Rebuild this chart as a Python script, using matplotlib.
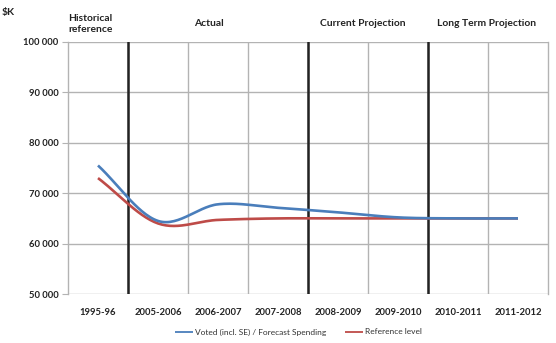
import numpy as np
import matplotlib
matplotlib.use("Agg")
import matplotlib.pyplot as plt
from matplotlib.transforms import blended_transform_factory

categories = ["1995-96", "2005-2006", "2006-2007", "2007-2008",
              "2008-2009", "2009-2010", "2010-2011", "2011-2012"]
voted = [75500, 64500, 67800, 67100, 66200, 65200, 65000, 65000]
reference = [73000, 64000, 64700, 65000, 65000, 65000, 65000, 65000]
y_ticks = [50000, 60000, 70000, 80000, 90000, 100000]
section_labels = ["Historical\nreference", "Actual", "Current Projection", "Long Term Projection"]
section_centers = [-0.13, 1.85, 4.41, 6.47]
section_breaks = [0.5, 3.5, 5.5]

plt.rcParams['font.family'] = ['Lato', 'DejaVu Sans']


def smooth(xs, ys, n=30):
    xs = np.asarray(xs, float); ys = np.asarray(ys, float)
    px = np.concatenate([[2 * xs[0] - xs[1]], xs, [2 * xs[-1] - xs[-2]]])
    py = np.concatenate([[2 * ys[0] - ys[1]], ys, [2 * ys[-1] - ys[-2]]])
    ox, oy = [], []
    for i in range(1, len(px) - 2):
        t = np.linspace(0, 1, n, endpoint=(i == len(px) - 3))
        p0, p1, p2, p3 = py[i - 1], py[i], py[i + 1], py[i + 2]
        q0, q1, q2, q3 = px[i - 1], px[i], px[i + 1], px[i + 2]
        def cr(a, b, c, d):
            return 0.5 * ((2 * b) + (-a + c) * t + (2 * a - 5 * b + 4 * c - d) * t ** 2
                          + (-a + 3 * b - 3 * c + d) * t ** 3)
        ox.append(cr(q0, q1, q2, q3)); oy.append(cr(p0, p1, p2, p3))
    return np.concatenate(ox), np.concatenate(oy)


fig = plt.figure(figsize=(5.56, 3.43), dpi=100)
ax = fig.add_axes([68 / 556, 1 - 294 / 343, 480 / 556, 252 / 343])

x = np.arange(len(categories))
ax.set_xlim(-0.5, len(categories) - 0.5)
ax.set_ylim(50000, 100000)

grid_c = "#b3b3b3"
for yt in y_ticks:
    ax.axhline(yt, color=grid_c, lw=1.0, zorder=1)
for b in np.arange(0.5, len(categories) - 0.5, 1.0):
    ax.axvline(b, color=grid_c, lw=1.0, zorder=1)
for b in section_breaks:
    ax.axvline(b, color="#222222", lw=1.8, zorder=2)

for s in ["top", "bottom"]:
    ax.spines[s].set_visible(False)
for s in ["left", "right"]:
    ax.spines[s].set_color(grid_c)
    ax.spines[s].set_linewidth(1.0)

sx, sy = smooth(x, voted)
h1, = ax.plot(sx, sy, color="#4A7EBB", lw=1.9, zorder=4, solid_capstyle="butt")
rx, ry = smooth(x, reference)
h2, = ax.plot(rx, ry, color="#BE4B48", lw=1.9, zorder=3, solid_capstyle="butt")

ax.set_yticks(y_ticks)
ax.set_yticklabels([f"{v:,}".replace(",", " ") for v in y_ticks], fontsize=6.8,
                   fontweight="bold", color="#222222")
ax.set_xticks(x)
ax.set_xticklabels(categories, fontsize=6.8, fontweight="bold", color="#222222")
ax.tick_params(axis="y", length=4, color=grid_c, pad=3)
ax.tick_params(axis="x", length=0, pad=10)

trans = blended_transform_factory(ax.transData, fig.transFigure)
for lab, c in zip(section_labels, section_centers):
    ax.text(c, 1 - 24 / 343, lab, transform=trans, ha="center", va="center",
            fontsize=7.4, fontweight="bold", color="#222222", linespacing=1.4)

fig.text(2 / 556, 1 - 12 / 343, "$K", fontsize=7.4, fontweight="bold", color="#222222",
         ha="left", va="center")

legend_y = 1 - 332 / 343
for h, lab, lx in [(h1, "Voted (incl. SE) / Forecast Spending", 175 / 556),
                   (h2, "Reference level", 345 / 556)]:
    lg = fig.legend([h], [lab], loc="center left", bbox_to_anchor=(lx, legend_y),
                    frameon=False, fontsize=6, handlelength=2.2, handletextpad=0.15,
                    borderpad=0, borderaxespad=0)
    for t in lg.get_texts():
        t.set_color("#333333")
    for ln in lg.get_lines():
        ln.set_linewidth(1.3)

fig.savefig("out.png", dpi=100)
